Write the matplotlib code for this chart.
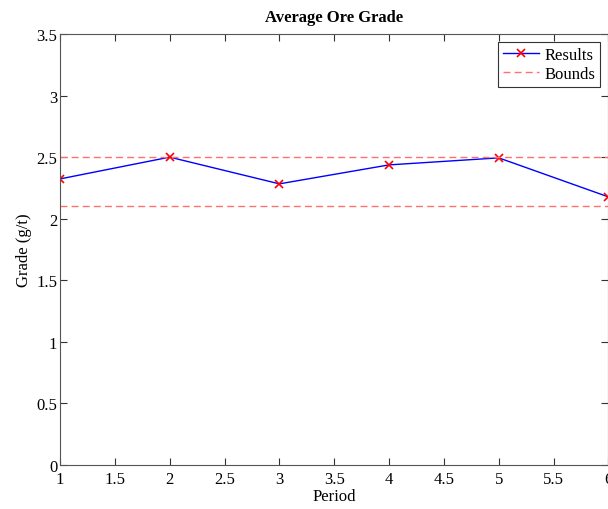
import matplotlib.pyplot as plt

plt.rcParams['font.family'] = ['Liberation Serif', 'DejaVu Serif']

period = [1, 2, 3, 4, 5, 6]
grade = [2.323, 2.50, 2.283, 2.437, 2.494, 2.177]
upper_bound = 2.5
lower_bound = 2.1

fig = plt.figure(figsize=(6.08, 5.10), dpi=100)
ax = fig.add_axes([0.0987, 0.0863, 0.9020, 0.8451])

ax.plot(period, grade, color='blue', linewidth=1.0, marker='x',
        markeredgecolor='red', markersize=6, markeredgewidth=1.2, label='Results')
ax.axhline(upper_bound, color='#ff7070', linestyle='--', linewidth=1.0,
           dashes=(5, 3), label='Bounds')
ax.axhline(lower_bound, color='#ff7070', linestyle='--', linewidth=1.0,
           dashes=(5, 3))

ax.set_xlim(1, 6)
ax.set_ylim(0, 3.5)
ax.set_xticks([1, 1.5, 2, 2.5, 3, 3.5, 4, 4.5, 5, 5.5, 6])
ax.set_xticklabels(['1', '1.5', '2', '2.5', '3', '3.5', '4', '4.5', '5', '5.5', '6'])
ax.set_yticks([0, 0.5, 1, 1.5, 2, 2.5, 3, 3.5])
ax.set_yticklabels(['0', '0.5', '1', '1.5', '2', '2.5', '3', '3.5'])
ax.tick_params(direction='in', top=True, right=True, length=5, width=0.8,
               labelsize=12, colors='#333333', labelcolor='black')
ax.tick_params(axis='x', pad=4)
ax.tick_params(axis='y', pad=2)
for s in ax.spines.values():
    s.set_color('#555555')
    s.set_linewidth(0.8)

ax.set_title('Average Ore Grade', fontsize=12, fontweight='bold', pad=9)
ax.set_xlabel('Period', fontsize=12, labelpad=1)
ax.set_ylabel('Grade (g/t)', fontsize=12, labelpad=3)

leg = ax.legend(loc='upper right', fontsize=12, fancybox=False, framealpha=1,
                edgecolor='#333333', borderpad=0.3, labelspacing=0.15,
                handlelength=2.2, handletextpad=0.3, borderaxespad=0.5)
leg.get_frame().set_linewidth(0.8)

fig.savefig('out.png', dpi=100)
